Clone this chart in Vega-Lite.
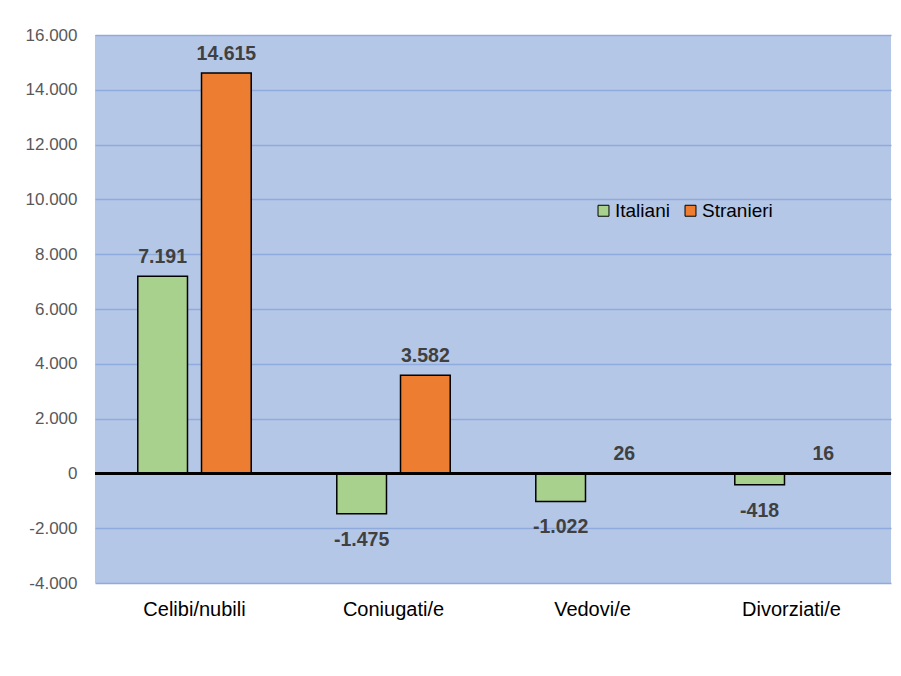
{
  "$schema": "https://vega.github.io/schema/vega-lite/v6.json",
  "autosize": {"type": "none"},
  "width": 796,
  "height": 548,
  "padding": {"left": 95, "top": 35, "right": 10, "bottom": 93},
  "background": "#ffffff",
  "config": {
    "locale": {
      "number": {"decimal": ",", "thousands": ".", "grouping": [3], "currency": ["€", ""], "minus": "-"}
    },
    "font": "Liberation Sans",
    "view": {"fill": "#B4C7E7", "stroke": null}
  },
  "data": {
    "values": [
      {"stato": "Celibi/nubili", "cittadinanza": "Italiani", "valore": 7191},
      {"stato": "Celibi/nubili", "cittadinanza": "Stranieri", "valore": 14615},
      {"stato": "Coniugati/e", "cittadinanza": "Italiani", "valore": -1475},
      {"stato": "Coniugati/e", "cittadinanza": "Stranieri", "valore": 3582},
      {"stato": "Vedovi/e", "cittadinanza": "Italiani", "valore": -1022},
      {"stato": "Vedovi/e", "cittadinanza": "Stranieri", "valore": 26},
      {"stato": "Divorziati/e", "cittadinanza": "Italiani", "valore": -418},
      {"stato": "Divorziati/e", "cittadinanza": "Stranieri", "valore": 16}
    ]
  },
  "encoding": {
    "x": {
      "field": "stato",
      "type": "nominal",
      "sort": null,
      "scale": {"paddingInner": 0.43, "paddingOuter": 0.215},
      "axis": {
        "title": null,
        "labelAngle": 0,
        "ticks": false,
        "domain": false,
        "labelFontSize": 20,
        "labelColor": "#000000",
        "labelPadding": 16
      }
    },
    "xOffset": {
      "field": "cittadinanza",
      "type": "nominal",
      "scale": {"paddingInner": 0.22, "paddingOuter": 0}
    }
  },
  "layer": [
    {
      "mark": {"type": "bar", "stroke": "#000000", "strokeWidth": 1.5},
      "encoding": {
        "y": {
          "field": "valore",
          "type": "quantitative",
          "scale": {"domain": [-4000, 16000], "nice": false, "zero": false},
          "axis": {
            "title": null,
            "values": [-4000, -2000, 0, 2000, 4000, 6000, 8000, 10000, 12000, 14000, 16000],
            "format": ",d",
            "ticks": false,
            "domain": false,
            "grid": true,
            "gridColor": "#8FAADC",
            "gridWidth": 1.5,
            "labelFontSize": 17,
            "labelColor": "#595959",
            "labelPadding": 18
          }
        },
        "color": {
          "field": "cittadinanza",
          "type": "nominal",
          "scale": {"domain": ["Italiani", "Stranieri"], "range": ["#A9D18E", "#ED7D31"]},
          "legend": {
            "title": null,
            "orient": "none",
            "direction": "horizontal",
            "legendX": 499,
            "legendY": 166,
            "symbolType": "square",
            "symbolSize": 120,
            "symbolStrokeColor": "#000000",
            "symbolStrokeWidth": 1,
            "symbolOpacity": 1,
            "labelFontSize": 19,
            "labelColor": "#000000",
            "labelOffset": 2,
            "columnPadding": 11
          }
        }
      }
    },
    {
      "mark": {"type": "rule", "color": "#000000", "strokeWidth": 2.5},
      "encoding": {
        "y": {"datum": 0, "type": "quantitative"},
        "x": {},
        "xOffset": {}
      }
    },
    {
      "transform": [{"filter": "datum.valore >= 0"}],
      "mark": {"type": "text", "fontWeight": "bold", "fontSize": 19.5, "color": "#404040", "baseline": "middle", "dy": -19},
      "encoding": {
        "y": {"field": "valore", "type": "quantitative"},
        "text": {"field": "valore", "type": "quantitative", "format": ",d"}
      }
    },
    {
      "transform": [{"filter": "datum.valore < 0"}],
      "mark": {"type": "text", "fontWeight": "bold", "fontSize": 19.5, "color": "#404040", "baseline": "middle", "dy": 26},
      "encoding": {
        "y": {"field": "valore", "type": "quantitative"},
        "text": {"field": "valore", "type": "quantitative", "format": ",d"}
      }
    }
  ]
}
